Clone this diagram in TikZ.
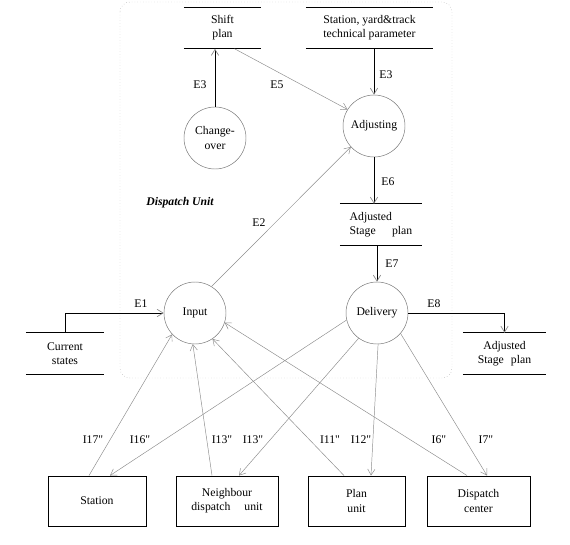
\documentclass[tikz,border=0pt]{standalone}
\usepackage{fontspec}
\setmainfont{Liberation Serif}[Ligatures=TeXOff]
\usetikzlibrary{arrows.meta}
\tikzstyle{process}=[shape=circle,draw=black!55,minimum size=18.6mm,inner sep=0pt,align=center]
\tikzstyle{store}=[minimum height=12.3mm,inner sep=0pt,align=center,
  append after command={(\tikzlastnode.north west) edge[line width=0.8pt] (\tikzlastnode.north east)
    (\tikzlastnode.south west) edge[line width=0.8pt] (\tikzlastnode.south east)}]
\tikzstyle{terminal}=[shape=rectangle,draw,line width=0.8pt,minimum height=15mm,inner sep=0pt,align=center]
\tikzstyle{flow}=[draw=black!45,line width=0.4pt,-{Straight Barb[length=1.8mm,width=2.2mm]}]
\tikzstyle{mainflow}=[draw=black,line width=0.6pt,-{Straight Barb[length=1.8mm,width=2.2mm,color=black!45]}]
\tikzstyle{unit}=[draw=black!40,dotted,rounded corners=3mm]

\begin{document}
\begin{tikzpicture}[x=0.3mm,y=-0.3mm]
  \useasboundingbox (0,0) rectangle (570,545);
% dispatch unit frame
  \draw[unit] (120,2) rectangle (452,378);
  \node (unitname) at (180,203) {\bfseries\itshape Dispatch Unit};
% stores
  \node[store,minimum width=23.1mm] (shift)    at (222.5,28)  {Shift\\plan};
  \node[store,minimum width=38.1mm] (param)    at (369.5,28)  {Station, yard\&track\\technical parameter};
  \node[store,minimum width=24.6mm,align=left] (adjstore) at (381,224.5) {Adjusted\\Stage\hspace{1.4em}plan};
  \node[store,minimum width=23.4mm] (current)  at (65,353.5)  {Current\\states};
  \node[store,minimum width=24.9mm] (outstore) at (504.5,353.5) {Adjusted\\Stage\hspace{0.6em}plan};
% processes
  \node[process] (change)    at (215,138) {Change-\\over};
  \node[process] (adjusting) at (374,126) {Adjusting};
  \node[process] (input)     at (195,313) {Input};
  \node[process] (delivery)  at (377,313) {Delivery};
% external units
  \node[terminal,minimum width=29.4mm] (station)   at (97,501)    {Station};
  \node[terminal,minimum width=30.6mm] (neighbour) at (227,501)   {Neighbour\\dispatch\hspace{1.2em}unit};
  \node[terminal,minimum width=29.1mm] (plan)      at (356.5,501) {Plan\\unit};
  \node[terminal,minimum width=30.9mm] (center)    at (478.5,501) {Dispatch\\center};
% internal flows
  \draw[mainflow] (change) -- (change |- shift.south);
  \node (lE3a) at (200,85) {E3};
  \draw[flow] ([xshift=3.6mm]shift.south) -- (adjusting.148);
  \node (lE5) at (277,85) {E5};
  \draw[mainflow] (adjusting |- param.south) -- (adjusting);
  \node (lE3b) at (386,75) {E3};
  \draw[mainflow] (adjusting) -- (adjusting |- adjstore.north);
  \node (lE6) at (388,182) {E6};
  \draw[flow] (input.58) -- (adjusting.222);
  \node (lE2) at (259,223) {E2};
  \draw[mainflow] (delivery |- adjstore.south) -- (delivery);
  \node (lE7) at (392,264) {E7};
  \draw[mainflow] (current.north) |- (input.west);
  \node (lE1) at (141,304) {E1};
  \draw[mainflow] (delivery.east) -| (outstore.north);
  \node (lE8) at (434,304) {E8};
% external flows
  \draw[flow] ([xshift=-2.4mm]station.north) -- (input.223);
  \draw[flow] (delivery.193) -- ([xshift=3.9mm]station.north);
  \draw[flow] ([xshift=-4.5mm]neighbour.north) -- (input.266);
  \draw[flow] (delivery.234) -- ([xshift=3.6mm]neighbour.north);
  \draw[flow] ([xshift=-3.75mm]plan.north) -- (input.304);
  \draw[flow] (delivery.272) -- ([xshift=4.35mm]plan.north);
  \draw[flow] ([xshift=-3.45mm]center.north) -- (input.342);
  \draw[flow] (delivery.319) -- ([xshift=2.55mm]center.north);
  \node (lI17) at (93,440)  {I17"};
  \node (lI16) at (140,440) {I16"};
  \node (lI13a) at (222,440) {I13"};
  \node (lI13b) at (253,440) {I13"};
  \node (lI11) at (330,440) {I11"};
  \node (lI12) at (361,440) {I12"};
  \node (lI6) at (439,440)  {I6"};
  \node (lI7) at (486,440)  {I7"};
\end{tikzpicture}
\end{document}
